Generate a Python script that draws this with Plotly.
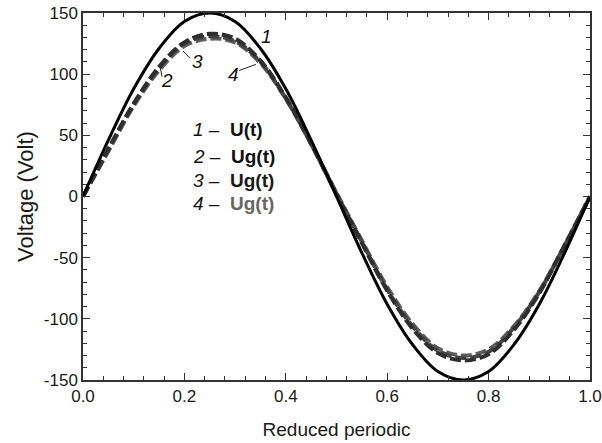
import plotly.graph_objects as go

# Reduced period (fraction of one cycle)
t = [0.0, 0.05, 0.10, 0.15, 0.20, 0.25, 0.30, 0.35, 0.40, 0.45, 0.50,
     0.55, 0.60, 0.65, 0.70, 0.75, 0.80, 0.85, 0.90, 0.95, 1.0]

# 1 - supply voltage U(t)
u_t = [0, 46, 88, 121, 143, 150, 143, 121, 88, 46, 0,
       -46, -88, -121, -143, -150, -143, -121, -88, -46, 0]

# 2, 3, 4 - generated voltage Ug(t)
ug_2 = [0, 39, 76, 106, 126, 133, 129, 111, 81, 43, 2,
        -38, -77, -108, -128, -134, -129, -109, -79, -40, 0]
ug_3 = [0, 38, 75, 105, 125, 131, 127, 110, 80, 43, 2,
        -37, -76, -106, -126, -132, -127, -107, -78, -40, 0]
ug_4 = [0, 37, 74, 103, 123, 129, 126, 109, 80, 43, 3,
        -36, -74, -104, -124, -130, -125, -106, -77, -40, 0]

x_ticks = [0.0, 0.2, 0.4, 0.6, 0.8, 1.0]
x_tick_text = ["0.0", "0.2", "0.4", "0.6", "0.8", "1.0"]
y_ticks = [-150, -100, -50, 0, 50, 100, 150]
y_tick_text = ["-150", "-100", "-50", "0", "50", "100", "150"]

FONT = "Liberation Sans, Arial"

fig = go.Figure()

fig.add_trace(go.Scatter(x=t, y=ug_4, mode="lines", line_shape="spline",
                         line=dict(color="#5e5e5e", width=4, dash="11px,4px")))
fig.add_trace(go.Scatter(x=t, y=ug_3, mode="lines", line_shape="spline",
                         line=dict(color="#444444", width=4, dash="11px,4px")))
fig.add_trace(go.Scatter(x=t, y=ug_2, mode="lines", line_shape="spline",
                         line=dict(color="#2e2e2e", width=4, dash="11px,4px")))
fig.add_trace(go.Scatter(x=t, y=u_t, mode="lines", line_shape="spline",
                         line=dict(color="#000000", width=3)))

# Curve numbers with leader lines
num_font = dict(family=FONT, size=19, color="#111111")
curve_labels = [("1", 0.361, 131), ("2", 0.166, 95), ("3", 0.225, 110), ("4", 0.296, 100)]
for txt, xx, yy in curve_labels:
    fig.add_annotation(x=xx, y=yy, text="<i>%s</i>" % txt, showarrow=False, font=num_font)

leaders = [((0.152, 106), (0.156, 98)),
           ((0.197, 119), (0.211, 113)),
           ((0.308, 103), (0.341, 108))]
for (x0, y0), (x1, y1) in leaders:
    fig.add_shape(type="line", x0=x0, y0=y0, x1=x1, y1=y1,
                  line=dict(color="#222222", width=1))

# Key
key_rows = [("1", "U(t)", "#111111", 55),
            ("2", "Ug(t)", "#111111", 33),
            ("3", "Ug(t)", "#1a1a1a", 13),
            ("4", "Ug(t)", "#666666", -6)]
for num, name, col, yy in key_rows:
    fig.add_annotation(x=0.213, y=yy, xanchor="left", showarrow=False,
                       text="<i>%s</i> –  <b><span style='color:%s'>%s</span></b>" % (num, col, name),
                       font=num_font)

axis_common = dict(
    showline=True, linecolor="#333333", linewidth=1.5, mirror="ticks",
    ticks="inside", ticklen=7, tickwidth=1, tickcolor="#333333",
    showgrid=False, zeroline=False, ticklabeloverflow="allow", automargin=False,
    tickfont=dict(family=FONT, size=17, color="#1a1a1a"),
)

fig.update_xaxes(range=[0, 1], tickvals=x_ticks, ticktext=x_tick_text,
                 minor=dict(ticks="inside", ticklen=4, dtick=0.04, tickcolor="#333333"),
                 title=dict(text="Reduced periodic", standoff=18,
                            font=dict(family=FONT, size=19, color="#1a1a1a")),
                 **axis_common)
fig.update_yaxes(range=[-150, 150], tickvals=y_ticks, ticktext=y_tick_text,
                 minor=dict(ticks="inside", ticklen=4, dtick=10, tickcolor="#333333"),
                 title=dict(text="Voltage (Volt)", standoff=4,
                            font=dict(family=FONT, size=22, color="#1a1a1a")),
                 **axis_common)

fig.update_layout(width=602, height=443, showlegend=False,
                  plot_bgcolor="white", paper_bgcolor="white",
                  margin=dict(l=83, r=12, t=13, b=63))

fig.write_html("out.html")
